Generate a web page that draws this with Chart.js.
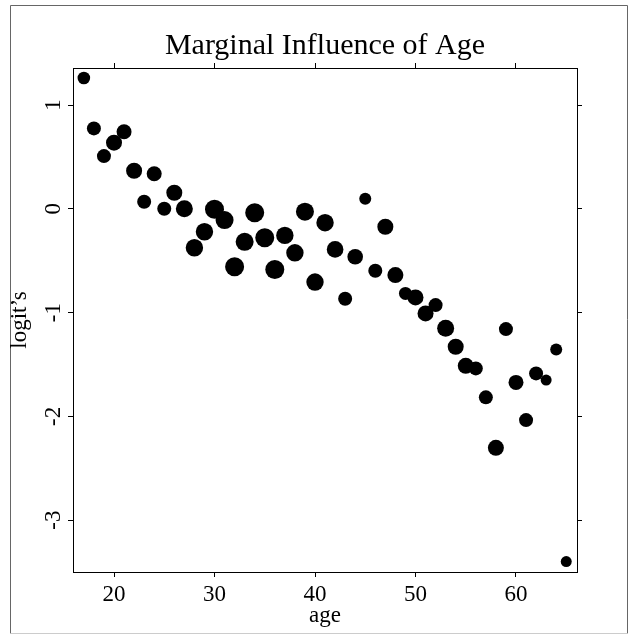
<!DOCTYPE html>
<html>
<head>
<meta charset="utf-8">
<script src="https://cdn.jsdelivr.net/npm/chart.js@4.4.1/dist/chart.umd.min.js"></script>
<style>
  body { margin: 0; background: #fff; }
  #wrap { width: 629px; height: 635px; }
</style>
</head>
<body>
<div id="wrap"><canvas id="glapharea"></canvas></div>
<script>
// ages 17..65
var ages = [17, 18, 19, 20, 21, 22, 23, 24, 25, 26, 27, 28, 29, 30, 31, 32, 33,
            34, 35, 36, 37, 38, 39, 40, 41, 42, 43, 44, 45, 46, 47, 48, 49, 50,
            51, 52, 53, 54, 55, 56, 57, 58, 59, 60, 61, 62, 63, 64, 65];
var logits = [1.26, 0.775, 0.508, 0.637, 0.743, 0.367, 0.068, 0.338, 0.0, 0.155,
              0.0, -0.375, -0.221, -0.005, -0.108, -0.558, -0.318, -0.038, -0.279,
              -0.584, -0.256, -0.424, -0.028, -0.706, -0.134, -0.391, -0.867, -0.462,
              0.097, -0.597, -0.173, -0.639, -0.815, -0.854, -1.008, -0.928, -1.150,
              -1.329, -1.513, -1.538, -1.817, -2.303, -1.159, -1.673, -2.036, -1.586,
              -1.650, -1.355, -3.40];
// marker size per age group
var sizes = [6.3, 7, 7, 8, 7.5, 8, 7, 7.5, 7, 8, 8.5, 8.7, 8.7, 9.5, 9, 9.5, 9,
             9.5, 9.5, 9.5, 8.7, 8.7, 9, 8.7, 8.7, 8.3, 7, 7.8, 6, 7, 8, 8, 6.5, 8,
             8, 7, 8.5, 8, 8, 7, 7, 8, 7, 7.5, 7, 7, 5.5, 6, 5.5];

var xTicks = [20, 30, 40, 50, 60];
var yTicks = [-3, -2, -1, 0, 1];

var serif = "'Liberation Serif', 'Times New Roman', serif";

function getPoints() {
    var hairetu = [];
    for (var i = 0; i < ages.length; i++) {
        hairetu.push({x: ages[i], y: logits[i], r: sizes[i]});
    }
    return hairetu;
}

// white page + thin frame
var framePlugin = {
    id: 'frame',
    beforeDraw: function(chart) {
        var ctx = chart.ctx;
        ctx.save();
        ctx.fillStyle = '#fff';
        ctx.fillRect(0, 0, chart.width, chart.height);
        ctx.lineWidth = 1;
        ctx.strokeStyle = '#666';
        ctx.beginPath();
        ctx.moveTo(10.5, 633.5);
        ctx.lineTo(10.5, 5.5);
        ctx.lineTo(627.5, 5.5);
        ctx.lineTo(627.5, 633.5);
        ctx.stroke();
        ctx.strokeStyle = '#ccc';
        ctx.beginPath();
        ctx.moveTo(10.5, 633.5);
        ctx.lineTo(627.5, 633.5);
        ctx.stroke();
        ctx.restore();
    }
};

function axisLine(pos, w, h, showLabels, title) {
    return {
        type: 'linear',
        position: pos,
        min: (pos == 'bottom' || pos == 'top') ? 15.92 : -3.50,
        max: (pos == 'bottom' || pos == 'top') ? 66.07 : 1.357,
        afterBuildTicks: function(scale) {
            var t = (pos == 'bottom' || pos == 'top') ? xTicks : yTicks;
            scale.ticks = t.map(function(v) { return {value: v}; });
        },
        afterFit: function(scale) {
            if (w !== null) scale.width = w;
            if (h !== null) scale.height = h;
        },
        grid: {
            drawOnChartArea: false,
            drawTicks: true,
            tickLength: 5,
            tickColor: '#000',
            tickWidth: 1
        },
        border: { display: true, color: '#000', width: 1 },
        ticks: {
            display: showLabels,
            color: '#000',
            font: { family: serif, size: 23 },
            padding: 4,
            minRotation: (pos == 'left') ? 90 : 0,
            maxRotation: (pos == 'left') ? 90 : 0,
            crossAlign: (pos == 'left') ? 'center' : 'near'
        },
        title: title
    };
}

function loadGlaph() {
    var glapharea = document.getElementById("glapharea").getContext('2d');
    var glaph = new Chart(glapharea, {
        type: 'bubble',
        data: {
            datasets: [{
                label: "logit’s",
                data: getPoints(),
                backgroundColor: '#000',
                borderWidth: 0,
                clip: false
            }]
        },
        options: {
            responsive: true,
            maintainAspectRatio: false,
            animation: false,
            events: [],
            layout: { padding: 0 },
            plugins: {
                legend: { display: false },
                tooltip: { enabled: false },
                title: {
                    display: true,
                    text: 'Marginal Influence of Age',
                    color: '#000',
                    fullSize: false,
                    font: { family: serif, size: 30, weight: 'normal' },
                    padding: { top: 28, bottom: 0 }
                }
            },
            scales: {
                x: axisLine('bottom', null, 63, true, {
                    display: true, text: 'age', color: '#000',
                    font: { family: serif, size: 23 },
                    padding: { top: 0, bottom: 5 }
                }),
                x2: axisLine('top', null, 4, false, { display: false }),
                y: axisLine('left', 73, null, true, {
                    display: true, text: "logit’s", color: '#000',
                    font: { family: serif, size: 23 },
                    padding: { top: 6, bottom: 0 }
                }),
                y2: axisLine('right', 52, null, false, { display: false })
            }
        },
        plugins: [framePlugin]
    });
}

loadGlaph();
</script>
</body>
</html>
